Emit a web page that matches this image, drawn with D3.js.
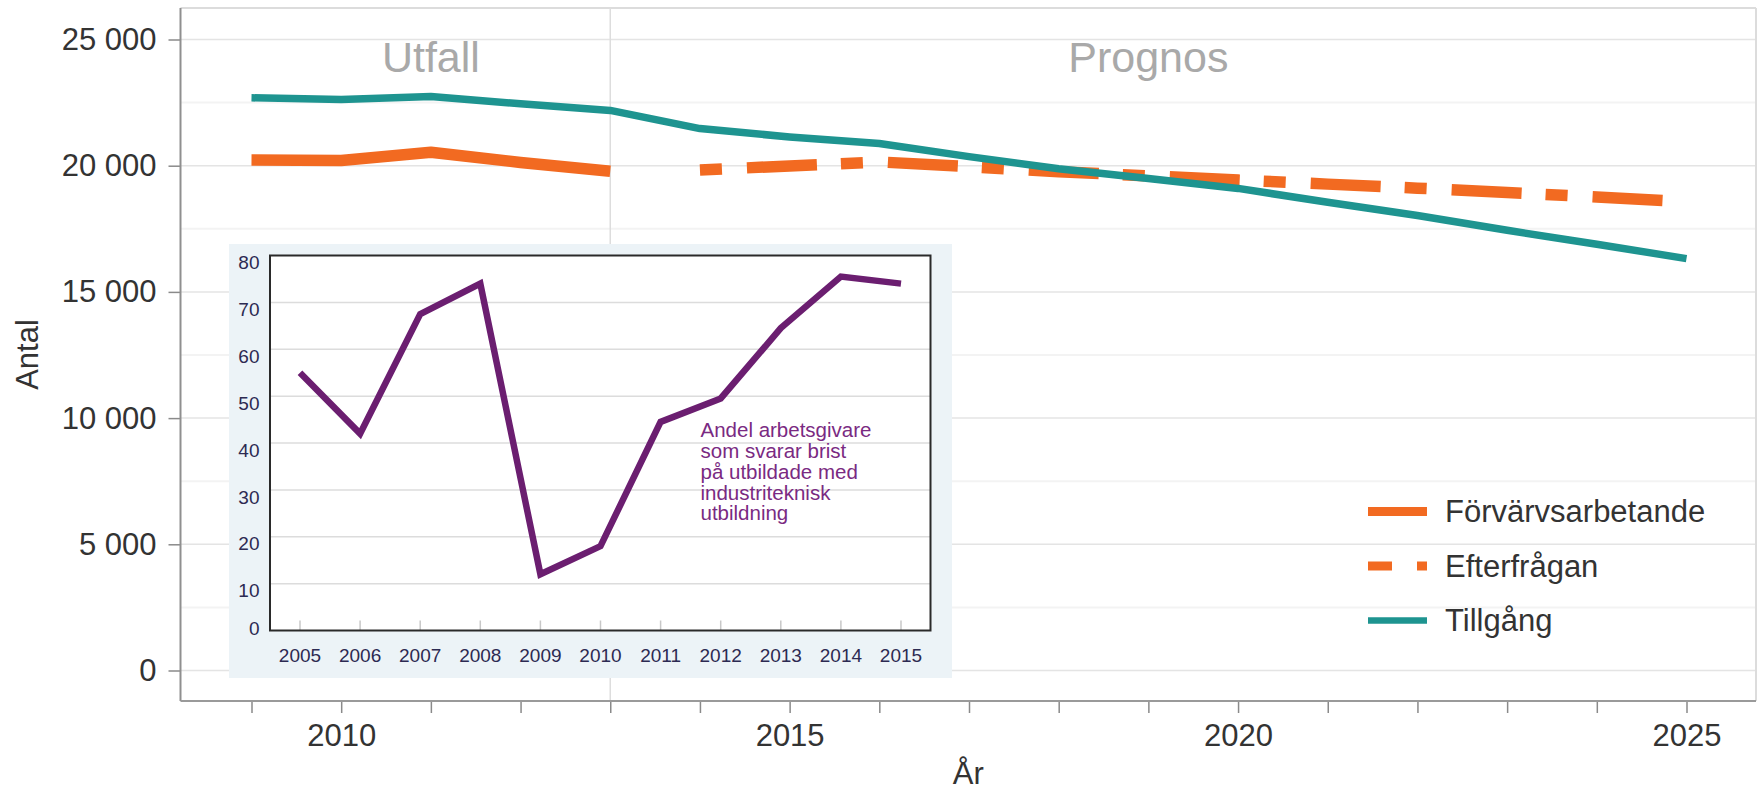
<!DOCTYPE html>
<html>
<head>
<meta charset="utf-8">
<script src="https://cdn.jsdelivr.net/npm/d3@7"></script>
<style>
  html, body { margin: 0; padding: 0; background: #fff; }
  svg { display: block; font-family: "Liberation Sans", Arial, sans-serif; }
</style>
</head>
<body>
<svg id="chart" width="1763" height="794"></svg>
<script>
// ---------------- DATA ----------------
const yearsAll = [2009,2010,2011,2012,2013,2014,2015,2016,2017,2018,2019,2020,2021,2022,2023,2024,2025];
const yearsUtfall = [2009,2010,2011,2012,2013];
const yearsPrognos = [2014,2015,2016,2017,2018,2019,2020,2021,2022,2023,2024,2025];
const forvarvsarbetande = [20230, 20210, 20530, 20130, 19780];
const efterfragan = [19830, 19990, 20150, 19960, 19760, 19600, 19430, 19270, 19110, 18940, 18760, 18570];
const tillgang = [22690, 22620, 22740, 22450, 22190, 21470, 21140, 20880, 20360, 19880, 19490, 19100, 18550, 18030, 17440, 16890, 16320];
const yTicks = [0, 5000, 10000, 15000, 20000, 25000];
const yMinor = [2500, 7500, 12500, 17500, 22500];
const xLabelYears = [2010, 2015, 2020, 2025];
const legendLabels = ["Förvärvsarbetande", "Efterfrågan", "Tillgång"];
const periodLabels = ["Utfall", "Prognos"];
const axisTitles = { x: "År", y: "Antal" };

// inset
const insetYears = [2005,2006,2007,2008,2009,2010,2011,2012,2013,2014,2015];
const insetValues = [55, 42, 67.5, 74, 12, 18, 44.5, 49.5, 64.5, 75.5, 74];
const insetYTicks = [0,10,20,30,40,50,60,70,80];
const insetNote = ["Andel arbetsgivare", "som svarar brist", "på utbildade med", "industriteknisk", "utbildning"];

// ---------------- COLORS ----------------
const cOrange = "#f26a21";
const cTeal = "#1e9490";
const cPurple = "#6b1e70";
const cText = "#333333";

const svg = d3.select("#chart");

// ---------------- MAIN CHART ----------------
const plot = { left: 180.5, right: 1756, top: 8, bottom: 701 };
const x = d3.scaleLinear().domain([2009, 2025]).range([251.5, 1686.5]);
const y = d3.scaleLinear().domain([0, 25000]).range([670.5, 39.5]);
const fmt = d3.formatLocale({decimal: ",", thousands: "\u00a0", grouping: [3], currency: ["", ""]}).format(",");

// minor faint gridlines
svg.append("g").selectAll("line").data(yMinor).join("line")
  .attr("x1", plot.left).attr("x2", plot.right)
  .attr("y1", d => y(d)).attr("y2", d => y(d))
  .attr("stroke", "#f3f3f3").attr("stroke-width", 2);
// major gridlines
svg.append("g").selectAll("line").data(yTicks).join("line")
  .attr("x1", plot.left).attr("x2", plot.right)
  .attr("y1", d => y(d)).attr("y2", d => y(d))
  .attr("stroke", "#e4e4e4").attr("stroke-width", 1.5);

// frame
svg.append("line").attr("x1", plot.left).attr("x2", plot.right).attr("y1", plot.top).attr("y2", plot.top)
  .attr("stroke", "#dcdcdc").attr("stroke-width", 2);
svg.append("line").attr("x1", plot.right).attr("x2", plot.right).attr("y1", plot.top).attr("y2", plot.bottom)
  .attr("stroke", "#dcdcdc").attr("stroke-width", 2);

// divider Utfall / Prognos
svg.append("line").attr("x1", x(2013)).attr("x2", x(2013)).attr("y1", plot.top).attr("y2", plot.bottom)
  .attr("stroke", "#dddddd").attr("stroke-width", 1.5);

// period labels
svg.append("text").attr("x", (x(2009) + x(2013)) / 2).attr("y", 72)
  .attr("text-anchor", "middle").attr("font-size", 43).attr("fill", "#a9a9a9").text(periodLabels[0]);
svg.append("text").attr("x", (x(2013) + x(2025)) / 2).attr("y", 72)
  .attr("text-anchor", "middle").attr("font-size", 43).attr("fill", "#a9a9a9").text(periodLabels[1]);

// y axis
const yAxis = svg.append("g").attr("transform", `translate(${plot.left},0)`)
  .call(d3.axisLeft(y).tickValues(yTicks).tickSize(12).tickPadding(12).tickFormat(fmt));
yAxis.select(".domain").remove();
yAxis.selectAll(".tick line").attr("stroke", "#8a8a8a").attr("stroke-width", 1.5);
yAxis.selectAll(".tick text").attr("font-size", 31).attr("fill", cText)
  .attr("font-family", "'Liberation Sans', Arial, sans-serif");
svg.append("line").attr("x1", plot.left).attr("x2", plot.left).attr("y1", plot.top).attr("y2", plot.bottom)
  .attr("stroke", "#8f8f8f").attr("stroke-width", 2);

// x axis
const xAxis = svg.append("g").attr("transform", `translate(0,${plot.bottom})`)
  .call(d3.axisBottom(x).tickValues(yearsAll).tickSize(12).tickPadding(11)
    .tickFormat(d => xLabelYears.includes(d) ? String(d) : ""));
xAxis.select(".domain").remove();
xAxis.selectAll(".tick line").attr("stroke", "#8a8a8a").attr("stroke-width", 1.5);
xAxis.selectAll(".tick text").attr("font-size", 31).attr("fill", cText)
  .attr("font-family", "'Liberation Sans', Arial, sans-serif");
svg.append("line").attr("x1", plot.left).attr("x2", plot.right).attr("y1", plot.bottom).attr("y2", plot.bottom)
  .attr("stroke", "#9a9a9a").attr("stroke-width", 2);

// axis titles
svg.append("text").attr("x", (plot.left + plot.right) / 2).attr("y", 784)
  .attr("text-anchor", "middle").attr("font-size", 31).attr("fill", cText).text(axisTitles.x);
svg.append("text").attr("transform", `translate(38,${(plot.top + plot.bottom) / 2}) rotate(-90)`)
  .attr("text-anchor", "middle").attr("font-size", 31).attr("fill", cText).text(axisTitles.y);

// lines
const line = d3.line().x(d => x(d[0])).y(d => y(d[1]));
svg.append("path").datum(yearsUtfall.map((yr, i) => [yr, forvarvsarbetande[i]]))
  .attr("d", line).attr("fill", "none").attr("stroke", cOrange).attr("stroke-width", 11.5)
  .attr("stroke-linejoin", "round");
const dashPath = svg.append("path").datum(yearsPrognos.map((yr, i) => [yr, efterfragan[i]]))
  .attr("d", line).attr("fill", "none").attr("stroke", cOrange).attr("stroke-width", 11.5);
// dash pattern: short, gap, long, gap — scaled so that 7 whole cycles fit the path
const basePattern = [22, 25, 70, 24];
const cycle = d3.sum(basePattern);
const L = dashPath.node().getTotalLength();
const k = L / (Math.round(L / cycle) * cycle);
dashPath.attr("stroke-dasharray", basePattern.map(v => v * k).join(" "));

svg.append("path").datum(yearsAll.map((yr, i) => [yr, tillgang[i]]))
  .attr("d", line).attr("fill", "none").attr("stroke", cTeal).attr("stroke-width", 7.5)
  .attr("stroke-linejoin", "round");

// legend
const legendX0 = 1368, legendX1 = 1427, legendTextX = 1445;
const legendY = [511.5, 566, 620.5];
const legendStyles = [
  { color: cOrange, width: 9, dash: null },
  { color: cOrange, width: 9, dash: "24 25 10 60" },
  { color: cTeal, width: 6.5, dash: null }
];
legendLabels.forEach((lab, i) => {
  const s = legendStyles[i];
  const ln = svg.append("line").attr("x1", legendX0).attr("x2", legendX1)
    .attr("y1", legendY[i]).attr("y2", legendY[i])
    .attr("stroke", s.color).attr("stroke-width", s.width);
  if (s.dash) ln.attr("stroke-dasharray", s.dash);
  svg.append("text").attr("x", legendTextX).attr("y", legendY[i]).attr("dy", "0.35em")
    .attr("font-size", 31).attr("fill", cText).text(lab);
});

// ---------------- INSET ----------------
const ib = { left: 229, right: 952, top: 244, bottom: 678 };
const ip = { left: 270, right: 930.5, top: 255.5, bottom: 630.5 };
const xi = d3.scaleLinear().domain([2005, 2015]).range([300, 901]);
const yi = d3.scaleLinear().domain([0, 80]).range([ip.bottom, ip.top]);

svg.append("rect").attr("x", ib.left).attr("y", ib.top)
  .attr("width", ib.right - ib.left).attr("height", ib.bottom - ib.top).attr("fill", "#ecf3f7");
svg.append("rect").attr("x", ip.left).attr("y", ip.top)
  .attr("width", ip.right - ip.left).attr("height", ip.bottom - ip.top).attr("fill", "#ffffff");

// inset gridlines
svg.append("g").selectAll("line").data(insetYTicks.filter(d => d > 0 && d < 80)).join("line")
  .attr("x1", ip.left).attr("x2", ip.right).attr("y1", d => yi(d)).attr("y2", d => yi(d))
  .attr("stroke", "#dcdcdc").attr("stroke-width", 1.5);
// inset x ticks (upward)
svg.append("g").selectAll("line").data(insetYears).join("line")
  .attr("x1", d => xi(d)).attr("x2", d => xi(d)).attr("y1", ip.bottom - 10).attr("y2", ip.bottom)
  .attr("stroke", "#c8c8c8").attr("stroke-width", 1.5);

// inset line
svg.append("path").datum(insetYears.map((yr, i) => [yr, insetValues[i]]))
  .attr("d", d3.line().x(d => xi(d[0])).y(d => yi(d[1])))
  .attr("fill", "none").attr("stroke", cPurple).attr("stroke-width", 6.5).attr("stroke-linejoin", "miter");

// inset frame
svg.append("rect").attr("x", ip.left).attr("y", ip.top)
  .attr("width", ip.right - ip.left).attr("height", ip.bottom - ip.top)
  .attr("fill", "none").attr("stroke", "#2a2a2a").attr("stroke-width", 2);

// inset labels
svg.append("g").selectAll("text").data(insetYTicks).join("text")
  .attr("x", 259.5).attr("y", d => Math.min(yi(d) + 7, ip.bottom - 2)).attr("dy", "0.35em")
  .attr("text-anchor", "end").attr("font-size", 19).attr("fill", "#2c2a52").text(d => d);
svg.append("g").selectAll("text").data(insetYears).join("text")
  .attr("x", d => xi(d)).attr("y", 655).attr("dy", "0.35em")
  .attr("text-anchor", "middle").attr("font-size", 19).attr("fill", "#2c2a52").text(d => d);

// inset note
svg.append("g").selectAll("text").data(insetNote).join("text")
  .attr("x", 700.5).attr("y", (d, i) => 430 + i * 20.8).attr("dy", "0.35em")
  .attr("font-size", 20.5).attr("fill", "#7a2a82").text(d => d);
</script>
</body>
</html>
